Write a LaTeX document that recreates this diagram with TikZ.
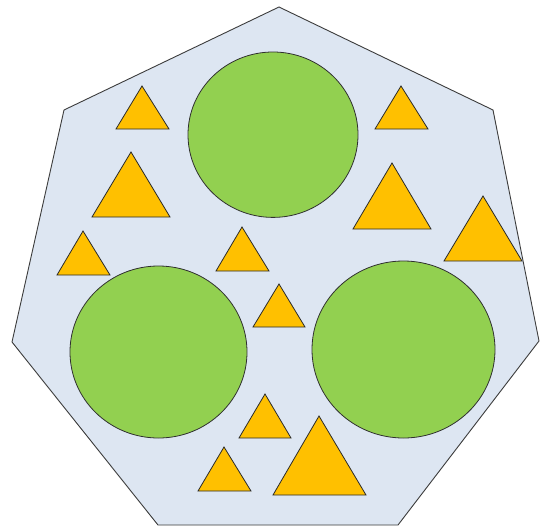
\documentclass[tikz,border=0pt]{standalone}
\definecolor{hepfill}{RGB}{221,230,242}
\definecolor{circfill}{RGB}{146,208,80}
\definecolor{trifill}{RGB}{255,192,0}
\definecolor{edge}{RGB}{60,60,60}
\begin{document}
\begin{tikzpicture}[x=1pt,y=-1pt,
  hept/.style={draw=edge,fill=hepfill,line width=0.9pt,line join=miter},
  disc/.style={draw=edge!80!black,fill=circfill,line width=0.8pt},
  tri/.style={draw=edge!70!black,fill=trifill,line width=0.8pt,line join=miter}]
\useasboundingbox (0,0) rectangle (540,527);
\fill[white] (0,0) rectangle (540,527);
\draw[hept] (279,7) -- (493,110) -- (539,341) -- (398,525) -- (158,525) -- (12,342) -- (64,110) -- cycle;
\draw[disc] (273,134.7) ellipse [x radius=85, y radius=82.7];
\draw[disc] (158.5,352) ellipse [x radius=88.5, y radius=86];
\draw[disc] (403.5,349.5) ellipse [x radius=91.5, y radius=88.5];
\foreach \ax/\ay/\bl/\br/\by in {
  142/86/116/169/129,
  401/86/375/428/129,
  131/152/92/170/217,
  392/163/353/431/229,
  483/196/444/522/261,
  83/231/57/110/275,
  242/227/216/269/271,
  279/284/253/305/327,
  265/394/239/291/438,
  224/447/198/251/491,
  319/416/273/366/495}
  \draw[tri] (\ax,\ay) -- (\br,\by) -- (\bl,\by) -- cycle;
\end{tikzpicture}
\end{document}
